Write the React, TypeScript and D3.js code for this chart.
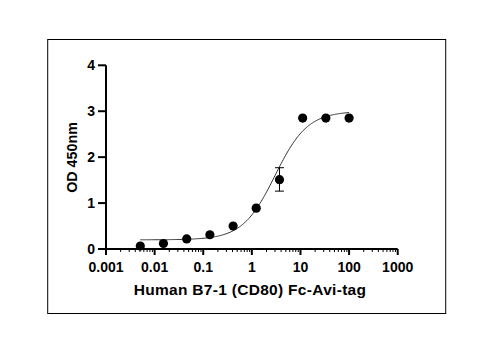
import React from "react";
import * as d3 from "d3";

const concentrations = [0.00508, 0.0152, 0.0457, 0.137, 0.412, 1.23, 3.7, 11.1, 33.3, 100];
const odValues = [0.065, 0.12, 0.22, 0.31, 0.5, 0.89, 1.51, 2.85, 2.85, 2.85];
const errLow = [0, 0, 0, 0, 0, 0, 1.26, 0, 0, 0];
const errHigh = [0, 0, 0, 0, 0, 0, 1.77, 0, 0, 0];
const xTicks = [0.001, 0.01, 0.1, 1, 10, 100, 1000];
const xTickLabels = ["0.001", "0.01", "0.1", "1", "10", "100", "1000"];
const yTicks = [0, 1, 2, 3, 4];
// 4-parameter logistic fit
const fitBottom = 0.2;
const fitTop = 3.0;
const fitEC50 = 3.0;
const fitHill = 1.3;

const W = 497;
const H = 363;
const FONT = "'Liberation Sans', Arial, sans-serif";

export default function App() {
  const x = d3.scaleLog().domain([0.001, 1000]).range([106, 397.7]);
  const y = d3.scaleLinear().domain([0, 4]).range([249, 65.3]);

  const fit = (c: number) => fitBottom + (fitTop - fitBottom) / (1 + Math.pow(fitEC50 / c, fitHill));
  const lo = Math.log10(concentrations[0]);
  const hi = Math.log10(concentrations[concentrations.length - 1]);
  const curveXs = d3.range(0, 201).map((i) => Math.pow(10, lo + (i / 200) * (hi - lo)));
  const line = d3.line<number>().x((c) => x(c)).y((c) => y(fit(c)));

  const minor: number[] = [];
  for (let e = -3; e < 3; e++) {
    for (let k = 2; k <= 9; k++) minor.push(k * Math.pow(10, e));
  }

  return (
    <svg width={W} height={H} style={{ position: "absolute", left: 0, top: 0, background: "#fff" }}>
      <rect x={0} y={0} width={W} height={H} fill="#fff" />
      <rect x={47.7} y={39.5} width={398} height={274} fill="none" stroke="#000" strokeWidth={1} />
      {/* y axis */}
      <line x1={106} x2={106} y1={y(4)} y2={y(0)} stroke="#000" strokeWidth={2} />
      {yTicks.map((t) => (
        <g key={"y" + t}>
          <line x1={98} x2={106} y1={y(t)} y2={y(t)} stroke="#000" strokeWidth={2} />
          <text x={95} y={y(t)} dy="0.36em" textAnchor="end" fontFamily={FONT} fontWeight="bold" fontSize={14}>
            {t}
          </text>
        </g>
      ))}
      {/* x axis */}
      <line x1={x(0.001)} x2={x(1000)} y1={y(0)} y2={y(0)} stroke="#000" strokeWidth={2} />
      {minor.map((m, i) => (
        <line key={"m" + i} x1={x(m)} x2={x(m)} y1={y(0)} y2={y(0) + 3} stroke="#000" strokeWidth={1} />
      ))}
      {xTicks.map((t, i) => (
        <g key={"x" + t}>
          <line x1={x(t)} x2={x(t)} y1={y(0)} y2={y(0) + 6} stroke="#000" strokeWidth={2} />
          <text x={x(t)} y={272} textAnchor="middle" fontFamily={FONT} fontWeight="bold" fontSize={14}>
            {xTickLabels[i]}
          </text>
        </g>
      ))}
      {/* titles */}
      <text x={250} y={294.5} textAnchor="middle" fontFamily={FONT} fontWeight="bold" fontSize={15.5} letterSpacing={0.3}>
        Human B7-1 (CD80) Fc-Avi-tag
      </text>
      <text transform={`translate(77,157.5) rotate(-90)`} textAnchor="middle" fontFamily={FONT} fontWeight="bold" fontSize={14.3}>
        OD 450nm
      </text>
      {/* fit curve */}
      <path d={line(curveXs) || ""} fill="none" stroke="#333" strokeWidth={1} />
      {/* error bars */}
      {concentrations.map((c, i) =>
        errHigh[i] > 0 ? (
          <g key={"e" + i} stroke="#000" strokeWidth={1}>
            <line x1={x(c)} x2={x(c)} y1={y(errLow[i])} y2={y(errHigh[i])} />
            <line x1={x(c) - 4.5} x2={x(c) + 4.5} y1={y(errLow[i])} y2={y(errLow[i])} />
            <line x1={x(c) - 4.5} x2={x(c) + 4.5} y1={y(errHigh[i])} y2={y(errHigh[i])} />
          </g>
        ) : null
      )}
      {/* points */}
      {concentrations.map((c, i) => (
        <circle key={"p" + i} cx={x(c)} cy={y(odValues[i])} r={4.6} fill="#000" />
      ))}
    </svg>
  );
}
